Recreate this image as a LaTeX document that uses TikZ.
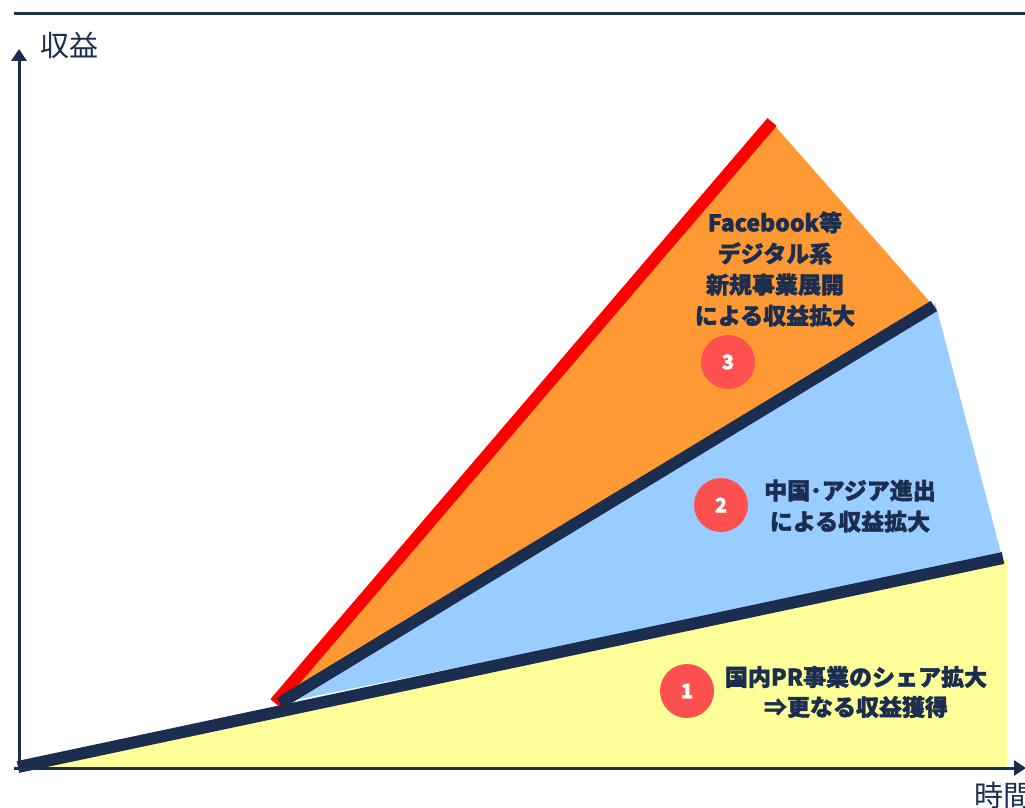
\documentclass[tikz,border=0pt]{standalone}
\usepackage{fontspec}
\usetikzlibrary{arrows.meta}
\setmainfont{Noto Sans CJK JP}[BoldFeatures={FakeBold=1.6}]
\definecolor{navy}{HTML}{1B2E4F}
\definecolor{yel}{HTML}{FFFF99}
\definecolor{sky}{HTML}{99CCFF}
\definecolor{org}{HTML}{FF9933}
\definecolor{badge}{HTML}{FF5050}
\tikzset{
  axisline/.style={draw=navy, line width=3pt, -{Triangle[length=12pt,width=15pt]}},
  bigline/.style={draw=navy, line width=12pt, line cap=butt},
  redline/.style={draw=red, line width=12pt, line cap=butt},
  lbl/.style={text=navy, font=\fontsize{23}{31}\selectfont\bfseries, align=center, inner sep=0pt},
  axlbl/.style={text=navy, font=\fontsize{29}{34}\selectfont, inner sep=0pt},
  numbadge/.style={circle, fill=badge, minimum size=54pt, inner sep=0pt, text=white, font=\fontsize{20}{22}\selectfont\bfseries}
}
\begin{document}
\begin{tikzpicture}[x=1pt,y=-1pt]
\useasboundingbox (0,0) rectangle (1025,808);
% key points
\coordinate (o) at (18,767);
\coordinate (k) at (280,703);
\coordinate (e1) at (1003,558);
\coordinate (e2) at (934,306);
\coordinate (r0) at (275,703);
\coordinate (rt) at (772,122);
% fills
\fill[yel] (o) -- (e1) -- (1007,560) -- (1007,767) -- cycle;
\fill[sky] (k) -- (e2) -- (935,302) -- (1001,553) -- (e1) -- cycle;
\fill[org] (r0) -- (rt) -- (775,126) -- (930,302) -- (e2) -- (k) -- cycle;
% lines
\draw[redline] (r0) -- (rt);
\draw[bigline] (o) -- (e1);
\draw[bigline] (k) -- (e2);
% axes
\coordinate (ya) at (19,768);
\coordinate (yb) at (19,49);
\coordinate (xa) at (14,768);
\coordinate (xb) at (1026,768);
\coordinate (ta) at (14,14);
\coordinate (tb) at (1025,14);
\draw[navy, line width=3pt] (ta) -- (tb);
\draw[axisline] (ya) -- (yb);
\draw[axisline] (xa) -- (xb);
\node[axlbl] (ylab) at (69,45) {収益};
\node[axlbl, anchor=west] (xlab) at (974,795) {時間};
% labels
\node[lbl] (t3) at (775,269) {Facebook等\\デジタル系\\新規事業展開\\による収益拡大};
\node[lbl] (t2) at (850,506) {中国･アジア進出\\による収益拡大};
\node[lbl, font=\fontsize{23}{30}\selectfont\bfseries] (t1) at (856,692) {国内PR事業のシェア拡大\\⇒更なる収益獲得};
\node[numbadge] (b3) at (728,362) {3};
\node[numbadge] (b2) at (721,505) {2};
\node[numbadge] (b1) at (687,691) {1};
\end{tikzpicture}
\end{document}
